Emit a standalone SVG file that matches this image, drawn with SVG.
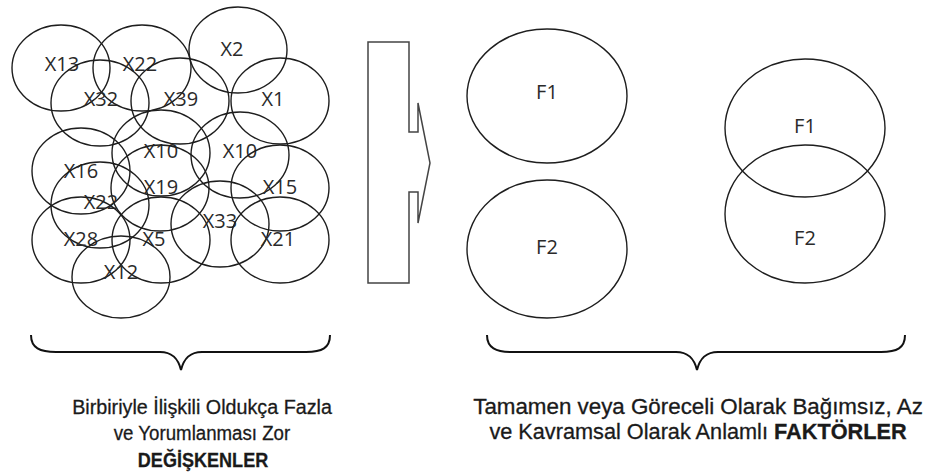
<svg xmlns="http://www.w3.org/2000/svg" width="931" height="474" viewBox="0 0 931 474">
  <style>
    .c { fill: none; stroke: #1e1e1e; stroke-width: 1.4; }
    .lbl { font-family: "Open Sans", "Noto Sans", sans-serif; font-size: 20px; fill: #2a2a2a; text-anchor: middle; }
    .brace { fill: none; stroke: #111; stroke-width: 2; }
    .cap { font-family: "Liberation Sans", Arial, sans-serif; font-size: 21px; fill: #1a1a1a; stroke: #1a1a1a; stroke-width: 0.3; text-anchor: middle; }
    .capr { font-size: 21.5px; }
    .b { font-weight: bold; }
  </style>
  <rect width="931" height="474" fill="#ffffff"/>

  <!-- Many correlated variables -->
  <g id="variables">
    <g id="x13"><ellipse class="c" cx="61" cy="68" rx="49" ry="43"/><text class="lbl" x="62" y="71">X13</text></g>
    <g id="x22"><ellipse class="c" cx="142" cy="68" rx="49" ry="43"/><text class="lbl" x="140" y="71">X22</text></g>
    <g id="x2"><ellipse class="c" cx="238" cy="50" rx="49" ry="43"/><text class="lbl" x="232" y="56">X2</text></g>
    <g id="x32"><ellipse class="c" cx="100" cy="103" rx="49" ry="43"/><text class="lbl" x="101" y="106">X32</text></g>
    <g id="x39"><ellipse class="c" cx="180" cy="101" rx="49" ry="43"/><text class="lbl" x="181" y="106">X39</text></g>
    <g id="x1"><ellipse class="c" cx="280" cy="101" rx="49" ry="43"/><text class="lbl" x="273" y="106">X1</text></g>
    <g id="x10a"><ellipse class="c" cx="161" cy="153" rx="49" ry="43"/><text class="lbl" x="161" y="158">X10</text></g>
    <g id="x10b"><ellipse class="c" cx="240" cy="155" rx="49" ry="43"/><text class="lbl" x="240" y="158">X10</text></g>
    <g id="x16"><ellipse class="c" cx="81" cy="171" rx="49" ry="43"/><text class="lbl" x="81" y="178">X16</text></g>
    <g id="x19"><ellipse class="c" cx="160" cy="188" rx="49" ry="43"/><text class="lbl" x="161" y="194">X19</text></g>
    <g id="x15"><ellipse class="c" cx="280" cy="188" rx="49" ry="43"/><text class="lbl" x="280" y="194">X15</text></g>
    <g id="x22b"><ellipse class="c" cx="100" cy="205" rx="49" ry="43"/><text class="lbl" x="101" y="209">X22</text></g>
    <g id="x33"><ellipse class="c" cx="220" cy="224" rx="49" ry="43"/><text class="lbl" x="220" y="228">X33</text></g>
    <g id="x28"><ellipse class="c" cx="81" cy="240" rx="49" ry="43"/><text class="lbl" x="81" y="246">X28</text></g>
    <g id="x5"><ellipse class="c" cx="161" cy="240" rx="49" ry="43"/><text class="lbl" x="154" y="246">X5</text></g>
    <g id="x21"><ellipse class="c" cx="280" cy="240" rx="49" ry="43"/><text class="lbl" x="278" y="246">X21</text></g>
    <g id="x12"><ellipse class="c" cx="121" cy="277" rx="49" ry="41"/><text class="lbl" x="121" y="279">X12</text></g>
  </g>

  <!-- Transformation arrow -->
  <g id="arrow">
    <path d="M368,42 H409 V132 H418 V103 L430,163 L418,223 V192 H409 V283 H368 Z" fill="none" stroke="#444" stroke-width="1.5" stroke-linejoin="miter"/>
  </g>

  <!-- Independent factors -->
  <g id="f1-independent"><ellipse class="c" cx="547" cy="96" rx="80" ry="67"/><text class="lbl" x="547" y="99">F1</text></g>
  <g id="f2-independent"><ellipse class="c" cx="547" cy="249" rx="80" ry="69"/><text class="lbl" x="547" y="254">F2</text></g>
  <!-- Correlated factors -->
  <g id="f1-related"><ellipse class="c" cx="805" cy="128" rx="80" ry="69"/><text class="lbl" x="805" y="133">F1</text></g>
  <g id="f2-related"><ellipse class="c" cx="805" cy="214" rx="80" ry="69"/><text class="lbl" x="805" y="245">F2</text></g>

  <!-- Braces -->
  <g id="connectors">
    <path class="brace" d="M31,335 C31,348 40,352 56,352 H160 C172,352 178,358 181,370 C184,358 190,352 202,352 H306 C322,352 330,348 330,335"/>
    <path class="brace" d="M487,335 C487,348 496,352 512,352 H676 C688,352 694,358 697,370 C700,358 706,352 718,352 H881 C897,352 905,348 905,335"/>
  </g>

  <!-- Captions (horizontally condensed lines) -->
  <g id="caption-left">
    <text class="cap" transform="translate(202,414) scale(0.94,1)">Birbiriyle İlişkili Oldukça Fazla</text>
    <text class="cap" transform="translate(202,440) scale(0.89,1)">ve Yorumlanması Zor</text>
    <text class="cap b" transform="translate(203,467) scale(0.86,1)">DEĞİŞKENLER</text>
  </g>
  <g id="caption-right">
    <text class="cap capr" transform="translate(698,414) scale(1.04,1)">Tamamen veya Göreceli Olarak Bağımsız, Az</text>
    <text class="cap capr" transform="translate(698,439) scale(1.01,1)">ve Kavramsal Olarak Anlamlı <tspan class="b">FAKTÖRLER</tspan></text>
  </g>
</svg>
